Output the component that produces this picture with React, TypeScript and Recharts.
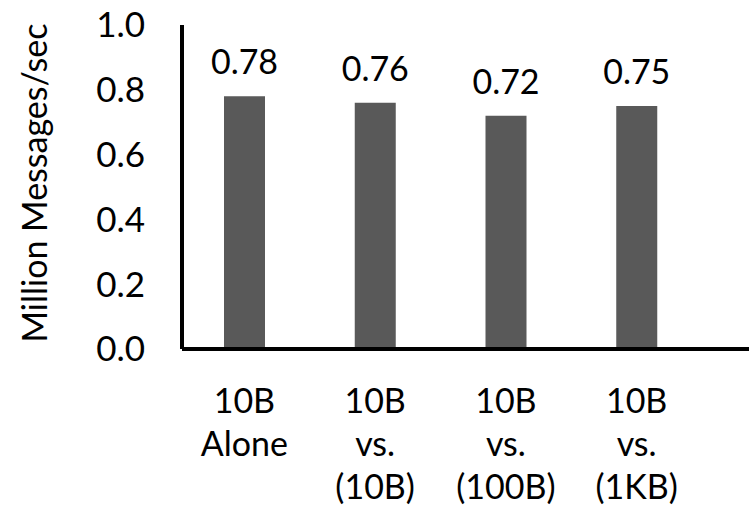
import { BarChart, Bar, XAxis, YAxis, LabelList } from "recharts";

// throughput of a 10B-message stream, alone and against competing streams
const categories = ["10B Alone", "10B vs. (10B)", "10B vs. (100B)", "10B vs. (1KB)"];
const tickLines = [
  ["10B", "Alone"],
  ["10B", "vs.", "(10B)"],
  ["10B", "vs.", "(100B)"],
  ["10B", "vs.", "(1KB)"],
];
const throughput = [0.78, 0.76, 0.72, 0.75];
const yTicks = [0, 0.2, 0.4, 0.6, 0.8, 1.0];

const data = categories.map((name, i) => ({ name, value: throughput[i] }));

const FONT = "Lato, 'Open Sans', sans-serif";

function CategoryTick(props: any) {
  const { x, y, index } = props;
  const lines = tickLines[index] || [];
  return (
    <text x={x} y={y} textAnchor="middle" fontFamily={FONT} fontSize={34} fill="#000">
      {lines.map((line, i) => (
        <tspan key={i} x={x} dy={i === 0 ? 56 : 43}>
          {line}
        </tspan>
      ))}
    </text>
  );
}

function AxisTitle() {
  return (
    <text
      x={33}
      y={183}
      transform="rotate(-90, 33, 183)"
      textAnchor="middle"
      dominantBaseline="central"
      fontFamily={FONT}
      fontSize={34}
      fill="#000"
    >
      Million Messages/sec
    </text>
  );
}

export default function App() {
  return (
    <div style={{ position: "absolute", left: 0, top: 0, background: "#fff" }}>
      <BarChart
        width={749}
        height={511}
        data={data}
        margin={{ top: 25, right: 0, bottom: 0, left: 0 }}
      >
        <XAxis
          dataKey="name"
          height={162}
          axisLine={{ stroke: "#000", strokeWidth: 4 }}
          tickLine={false}
          tick={<CategoryTick />}
          interval={0}
          padding={{ left: -3, right: 47 }}
        />
        <YAxis
          width={182}
          domain={[0, 1]}
          ticks={yTicks}
          tickFormatter={(v: number) => v.toFixed(1)}
          axisLine={{ stroke: "#000", strokeWidth: 4 }}
          tickLine={false}
          tickSize={0}
          tickMargin={37}
          tick={{ fontFamily: FONT, fontSize: 35, fill: "#000" }}
          label={<AxisTitle />}
        />
        <Bar dataKey="value" fill="#595959" barSize={41} isAnimationActive={false}>
          <LabelList
            dataKey="value"
            position="top"
            offset={22}
            formatter={(v: any) => Number(v).toFixed(2)}
            style={{ fontFamily: FONT, fontSize: 34, fill: "#000" }}
          />
        </Bar>
      </BarChart>
    </div>
  );
}
